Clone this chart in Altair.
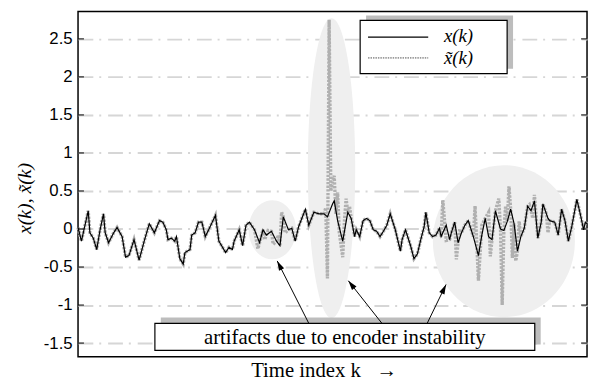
import altair as alt
import pandas as pd
import numpy as np

# ---------------- data ----------------
# original signal x(k): time index / value
x_k = [0, 2, 6, 7, 9, 11, 13, 15, 16, 18,
       21, 23, 26, 28, 30, 33, 36, 39, 42, 45,
       48, 50, 52, 53, 55, 57, 58, 60, 62, 63,
       66, 67, 69, 71, 73, 75, 77, 81, 83, 87,
       89, 91, 92, 95, 97, 99, 101, 104, 107, 109,
       111, 114, 117, 119, 121, 124, 126, 128, 130, 134,
       136, 139, 142, 145, 147, 150, 151, 153, 156, 159,
       161, 163, 164, 166, 168, 170, 172, 174, 176, 178,
       180, 182, 184, 187, 190, 191, 193, 196, 198, 200,
       202, 204, 205, 207, 209, 211, 213, 214, 217, 219,
       220, 222, 224, 226, 228, 230, 233, 236, 238, 240,
       242, 244, 246, 249, 251, 253, 255, 257, 259, 261,
       263, 265, 267, 269, 271, 273, 274, 277, 278, 281,
       283, 285, 287, 289, 291, 294, 296, 298, 299, 300]
x_v = [0.02, -0.16, 0.24, -0.05, -0.12, -0.27, -0.01, 0.20, -0.05, -0.18,
       -0.05, 0.02, -0.10, -0.37, -0.35, -0.14, -0.41, -0.16, 0.07, -0.05,
       0.11, 0.09, -0.01, -0.14, -0.12, -0.16, -0.10, -0.39, -0.46, -0.31,
       -0.27, -0.08, -0.05, 0.09, 0.09, -0.10, -0.01, 0.18, -0.16, -0.31,
       -0.24, -0.27, -0.16, -0.01, -0.22, 0.05, 0.09, -0.01, -0.18, -0.01,
       -0.08, -0.03, -0.16, -0.22, 0.16, -0.01, 0.01, -0.16, 0.03, 0.26,
       0.05, 0.22, 0.20, 0.20, 0.16, 0.33, 0.37, 0.11, -0.16, 0.22,
       0.14, -0.10, -0.01, -0.10, 0.11, 0.14, 0.11, -0.01, -0.03, -0.10,
       -0.03, 0.05, 0.20, -0.01, -0.29, -0.14, -0.01, -0.22, -0.39, -0.33,
       -0.14, 0.03, 0.22, -0.05, -0.10, -0.08, 0.01, -0.10, 0.05, -0.14,
       -0.05, 0.09, -0.18, -0.05, 0.05, 0.11, -0.10, -0.35, -0.08, 0.14,
       -0.10, -0.14, 0.24, 0.00, -0.02, 0.10, 0.26, 0.07, -0.29, -0.10,
       0.01, 0.30, 0.24, 0.37, -0.12, 0.09, 0.33, 0.14, 0.11, 0.09,
       -0.08, 0.26, 0.11, -0.16, 0.03, 0.39, 0.20, -0.01, 0.09, 0.07]

# decoded signal x~(k): equal to x(k) except at these artifact samples
art_k = [106, 110, 112, 115, 118, 120, 122,
         146, 147, 148, 149, 150, 151, 152, 153, 154, 156, 157, 158, 160, 162,
         215, 217, 223, 225, 234, 236, 238, 242, 243, 248, 250, 252, 254, 256,
         258, 260, 266, 268, 269, 276, 277]
art_v = [-0.26, -0.14, -0.02, -0.20, -0.08, 0.22, -0.05,
         0.28, -0.65, 2.75, 0.50, 0.62, 0.70, 0.20, 0.48, -0.05, -0.37, 0.10, 0.40, 0.30, 0.05,
         0.38, -0.15, -0.40, 0.00, 0.30, -0.68, 0.05, 0.22, -0.36, 0.40, -1.00, 0.30, 0.56, -0.38,
         -0.42, 0.10, 0.32, 0.14, 0.45, 0.20, -0.05]

y_ticks = [-1.5, -1, -0.5, 0, 0.5, 1, 1.5, 2, 2.5]

# highlighted regions (centre in data units, radii in pixels)
ell_k = [114.5, 149.4, 251.0]
ell_v = [-0.01, 0.80, -0.16]
ell_rx = [24, 24, 72]
ell_ry = [30, 152, 77]

# annotation box and arrows (data units)
box_k = [45.3, 269.2]
box_v = [-1.24, -1.595]
note_text = "artifacts due to encoder instability"
arr_k1 = [136.0, 179.1, 205.8]
arr_v1 = [-1.24, -1.24, -1.24]
arr_k2 = [117.4, 159.3, 216.9]
arr_v2 = [-0.42, -0.68, -0.73]

# ---------------- layout ----------------
W, H = 516, 350
X_DOM = [0, 300]
Y_DOM = [-1.68, 2.86]
px_k = W / (X_DOM[1] - X_DOM[0])
px_v = H / (Y_DOM[1] - Y_DOM[0])

xs = alt.Scale(domain=X_DOM, nice=False, zero=False)
ys = alt.Scale(domain=Y_DOM, nice=False, zero=False)

x_ax = alt.Axis(labels=False, ticks=False, domain=False, grid=False,
                title="Time index k\u00a0\u00a0\u00a0\u2192", titleFont="Liberation Serif",
                titleFontSize=21, titleFontWeight="normal", titleColor="black",
                titleX=249, titleY=20, titleAlign="center", titleBaseline="alphabetic")
y_ax = alt.Axis(values=y_ticks, ticks=False, domain=False, grid=True,
                gridColor="#d6d6d6", gridWidth=2, gridDash=[15, 6, 2, 7],
                labelExpr="datum.value < 0 ? '-' + toString(-datum.value) : toString(datum.value)",
                labelFont="Liberation Sans", labelFontSize=17, labelColor="black",
                labelPadding=6,
                title="x(k), x\u0303(k)", titleFont="Liberation Serif", titleFontSize=20,
                titleFontStyle="italic", titleFontWeight="normal", titleColor="black",
                titleX=-54, titleY=189, titleAlign="center", titleBaseline="middle",
                titleAngle=270)

def X(f):
    return alt.X(f, scale=xs, axis=x_ax)

def Y(f):
    return alt.Y(f, scale=ys, axis=y_ax)

df_x = pd.DataFrame({"k": x_k, "v": x_v})
xt_map = dict(zip(x_k, x_v))
xt_map.update(zip(art_k, art_v))
df_xt = pd.DataFrame(sorted(xt_map.items()), columns=["k", "v"])

paths, sizes = [], []
for rx, ry in zip(ell_rx, ell_ry):
    m = max(rx, ry)
    a, b = rx / m, ry / m
    paths.append(f"M {-a:.4f} 0 A {a:.4f} {b:.4f} 0 1 0 {a:.4f} 0 A {a:.4f} {b:.4f} 0 1 0 {-a:.4f} 0 Z")
    sizes.append((2 * m) ** 2)
df_ell = pd.DataFrame({"k": ell_k, "v": ell_v, "path": paths, "size": sizes})

ellipses = alt.Chart(df_ell).mark_point(filled=True, opacity=1, color="#efefef", strokeWidth=0).encode(
    x=X("k:Q"), y=Y("v:Q"),
    shape=alt.Shape("path:N", scale=None),
    size=alt.Size("size:Q", scale=None))

xt_line = alt.Chart(df_xt).mark_line(color="#b0b0b0", strokeWidth=3.4, strokeDash=[2.4, 1.3]).encode(
    x=X("k:Q"), y=Y("v:Q"))
x_line = alt.Chart(df_x).mark_line(color="black", strokeWidth=1.2).encode(
    x=X("k:Q"), y=Y("v:Q"))

df_ticks = pd.DataFrame({"v": y_ticks})
ticks_l = alt.Chart(df_ticks).mark_rule(color="black", strokeWidth=1).encode(
    x=alt.value(0), x2=alt.value(6), y=Y("v:Q"))
ticks_r = alt.Chart(df_ticks).mark_rule(color="black", strokeWidth=1).encode(
    x=alt.value(W - 6), x2=alt.value(W), y=Y("v:Q"))

# annotation box with shadow
sh_dk = 6 / px_k
sh_dv = 6 / px_v
df_box = pd.DataFrame({"k1": [box_k[0]], "k2": [box_k[1]], "v1": [box_v[0]], "v2": [box_v[1]]})
df_shadow = pd.DataFrame({"k1": [box_k[0] + sh_dk], "k2": [box_k[1] + sh_dk],
                          "v1": [box_v[0] + sh_dv], "v2": [box_v[1] + sh_dv]})
shadow = alt.Chart(df_shadow).mark_rect(color="#bdbdbd").encode(
    x=X("k1:Q"), x2="k2", y=Y("v1:Q"), y2="v2")
box = alt.Chart(df_box).mark_rect(fill="white", stroke="black", strokeWidth=1.2).encode(
    x=X("k1:Q"), x2="k2", y=Y("v1:Q"), y2="v2")
df_note = pd.DataFrame({"k": [(box_k[0] + box_k[1]) / 2], "v": [(box_v[0] + box_v[1]) / 2],
                        "t": [note_text]})
note = alt.Chart(df_note).mark_text(font="Liberation Serif", fontSize=21, color="black",
                                    align="center", baseline="middle", dy=1).encode(
    x=X("k:Q"), y=Y("v:Q"), text="t:N")

# arrows
ang = []
for a1, b1, a2, b2 in zip(arr_k1, arr_v1, arr_k2, arr_v2):
    dx = (a2 - a1) * px_k
    dy = -(b2 - b1) * px_v
    ang.append(float(np.degrees(np.arctan2(dx, -dy)) % 360))
df_arr = pd.DataFrame({"k1": arr_k1, "v1": arr_v1, "k2": arr_k2, "v2": arr_v2, "angle": ang})
arrows = alt.Chart(df_arr).mark_rule(color="black", strokeWidth=1).encode(
    x=X("k1:Q"), x2="k2", y=Y("v1:Q"), y2="v2")
heads = alt.Chart(df_arr).mark_point(filled=True, opacity=1, color="black", strokeWidth=0,
                                     shape="M 0 0 L 0.3 1 L -0.3 1 Z", size=380).encode(
    x=X("k2:Q"), y=Y("v2:Q"), angle=alt.Angle("angle:Q", scale=None))

# legend (drawn by hand, in pixel units of the plot)
one = pd.DataFrame({"a": [0]})
leg_shadow = alt.Chart(one).mark_rect(color="#bdbdbd").encode(
    x=alt.value(292), x2=alt.value(441), y=alt.value(4), y2=alt.value(58))
leg_box = alt.Chart(one).mark_rect(fill="white", stroke="black", strokeWidth=1.2).encode(
    x=alt.value(286), x2=alt.value(435), y=alt.value(9), y2=alt.value(63))
leg_l1 = alt.Chart(one).mark_rule(color="black", strokeWidth=1.2).encode(
    x=alt.value(294), x2=alt.value(355), y=alt.value(26))
leg_l2 = alt.Chart(one).mark_rule(color="#9a9a9a", strokeWidth=1.6, strokeDash=[1.5, 1]).encode(
    x=alt.value(294), x2=alt.value(355), y=alt.value(47))
leg_t1 = alt.Chart(one).mark_text(font="Liberation Serif", fontStyle="italic", fontSize=19,
                                  align="left", baseline="middle", color="black").encode(
    x=alt.value(371), y=alt.value(25), text=alt.value("x(k)"))
leg_t2 = alt.Chart(one).mark_text(font="Liberation Serif", fontStyle="italic", fontSize=19,
                                  align="left", baseline="middle", color="black").encode(
    x=alt.value(371), y=alt.value(47), text=alt.value("x\u0303(k)"))

chart = alt.layer(
    ellipses, xt_line, x_line, ticks_l, ticks_r,
    shadow, box, note, arrows, heads,
    leg_shadow, leg_box, leg_l1, leg_l2, leg_t1, leg_t2
).properties(
    width=W, height=H,
    autosize=alt.AutoSizeParams(type="none"),
    padding={"left": 71, "top": 1, "right": 2, "bottom": 22},
    background="white"
).configure_view(stroke="black", strokeWidth=1.5)

chart.save("out.html", embed_options={"renderer": "svg", "actions": False})
